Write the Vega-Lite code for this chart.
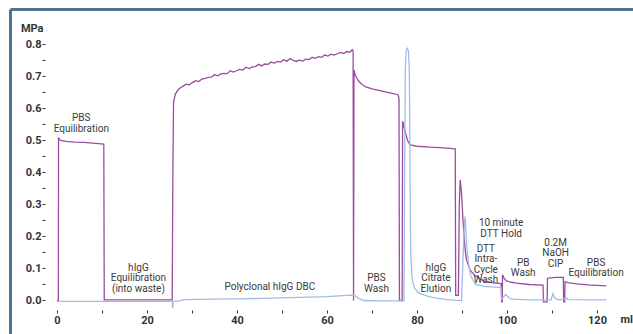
{
  "$schema": "https://vega.github.io/schema/vega-lite/v6.json",
  "width": 623,
  "height": 325,
  "autosize": {"type": "none"},
  "padding": {"left": 10, "top": 9, "right": 0, "bottom": 0},
  "background": "white",
  "config": {"view": {"stroke": null}, "font": "Roboto"},
  "datasets": {
    "curves": [
      {"ml": 0, "MPa": 0.0, "s": "P"},
      {"ml": 0.3, "MPa": 0.0, "s": "P"},
      {"ml": 0.35, "MPa": 0.507, "s": "P"},
      {"ml": 0.8, "MPa": 0.5, "s": "P"},
      {"ml": 2, "MPa": 0.497, "s": "P"},
      {"ml": 4, "MPa": 0.495, "s": "P"},
      {"ml": 6, "MPa": 0.494, "s": "P"},
      {"ml": 8, "MPa": 0.492, "s": "P"},
      {"ml": 10.4, "MPa": 0.489, "s": "P"},
      {"ml": 10.5, "MPa": 0.002, "s": "P"},
      {"ml": 15, "MPa": 0.002, "s": "P"},
      {"ml": 20, "MPa": 0.002, "s": "P"},
      {"ml": 25.6, "MPa": 0.002, "s": "P"},
      {"ml": 25.75, "MPa": 0.4, "s": "P"},
      {"ml": 25.9, "MPa": 0.62, "s": "P"},
      {"ml": 26.3, "MPa": 0.645, "s": "P"},
      {"ml": 27.0, "MPa": 0.66, "s": "P"},
      {"ml": 28.0, "MPa": 0.67, "s": "P"},
      {"ml": 28.7, "MPa": 0.676, "s": "P"},
      {"ml": 29.4, "MPa": 0.674, "s": "P"},
      {"ml": 30.1, "MPa": 0.681, "s": "P"},
      {"ml": 30.8, "MPa": 0.687, "s": "P"},
      {"ml": 31.5, "MPa": 0.684, "s": "P"},
      {"ml": 32.2, "MPa": 0.692, "s": "P"},
      {"ml": 32.9, "MPa": 0.694, "s": "P"},
      {"ml": 33.6, "MPa": 0.697, "s": "P"},
      {"ml": 34.3, "MPa": 0.698, "s": "P"},
      {"ml": 35.0, "MPa": 0.706, "s": "P"},
      {"ml": 35.7, "MPa": 0.702, "s": "P"},
      {"ml": 36.4, "MPa": 0.708, "s": "P"},
      {"ml": 37.1, "MPa": 0.71, "s": "P"},
      {"ml": 37.8, "MPa": 0.709, "s": "P"},
      {"ml": 38.5, "MPa": 0.718, "s": "P"},
      {"ml": 39.2, "MPa": 0.714, "s": "P"},
      {"ml": 39.9, "MPa": 0.718, "s": "P"},
      {"ml": 40.6, "MPa": 0.722, "s": "P"},
      {"ml": 41.3, "MPa": 0.72, "s": "P"},
      {"ml": 42.0, "MPa": 0.729, "s": "P"},
      {"ml": 42.7, "MPa": 0.725, "s": "P"},
      {"ml": 43.4, "MPa": 0.73, "s": "P"},
      {"ml": 44.1, "MPa": 0.731, "s": "P"},
      {"ml": 44.8, "MPa": 0.738, "s": "P"},
      {"ml": 45.5, "MPa": 0.733, "s": "P"},
      {"ml": 46.2, "MPa": 0.739, "s": "P"},
      {"ml": 46.9, "MPa": 0.738, "s": "P"},
      {"ml": 47.6, "MPa": 0.745, "s": "P"},
      {"ml": 48.3, "MPa": 0.742, "s": "P"},
      {"ml": 49.0, "MPa": 0.747, "s": "P"},
      {"ml": 49.7, "MPa": 0.745, "s": "P"},
      {"ml": 50.4, "MPa": 0.752, "s": "P"},
      {"ml": 51.1, "MPa": 0.748, "s": "P"},
      {"ml": 51.8, "MPa": 0.756, "s": "P"},
      {"ml": 52.5, "MPa": 0.75, "s": "P"},
      {"ml": 53.2, "MPa": 0.747, "s": "P"},
      {"ml": 53.9, "MPa": 0.751, "s": "P"},
      {"ml": 54.6, "MPa": 0.748, "s": "P"},
      {"ml": 55.3, "MPa": 0.754, "s": "P"},
      {"ml": 56.0, "MPa": 0.753, "s": "P"},
      {"ml": 56.7, "MPa": 0.76, "s": "P"},
      {"ml": 57.4, "MPa": 0.757, "s": "P"},
      {"ml": 58.1, "MPa": 0.762, "s": "P"},
      {"ml": 58.8, "MPa": 0.76, "s": "P"},
      {"ml": 59.5, "MPa": 0.767, "s": "P"},
      {"ml": 60.2, "MPa": 0.764, "s": "P"},
      {"ml": 60.9, "MPa": 0.77, "s": "P"},
      {"ml": 61.6, "MPa": 0.767, "s": "P"},
      {"ml": 62.3, "MPa": 0.771, "s": "P"},
      {"ml": 63.0, "MPa": 0.775, "s": "P"},
      {"ml": 63.7, "MPa": 0.772, "s": "P"},
      {"ml": 64.4, "MPa": 0.778, "s": "P"},
      {"ml": 65.1, "MPa": 0.776, "s": "P"},
      {"ml": 65.6, "MPa": 0.784, "s": "P"},
      {"ml": 65.8, "MPa": 0.78, "s": "P"},
      {"ml": 65.9, "MPa": 0.0, "s": "P"},
      {"ml": 66.0, "MPa": 0.72, "s": "P"},
      {"ml": 66.3, "MPa": 0.703, "s": "P"},
      {"ml": 66.8, "MPa": 0.69, "s": "P"},
      {"ml": 67.5, "MPa": 0.678, "s": "P"},
      {"ml": 68.5, "MPa": 0.668, "s": "P"},
      {"ml": 70, "MPa": 0.661, "s": "P"},
      {"ml": 72, "MPa": 0.655, "s": "P"},
      {"ml": 74, "MPa": 0.649, "s": "P"},
      {"ml": 75.8, "MPa": 0.643, "s": "P"},
      {"ml": 76.0, "MPa": 0.63, "s": "P"},
      {"ml": 76.1, "MPa": 0.0, "s": "P"},
      {"ml": 76.7, "MPa": 0.0, "s": "P"},
      {"ml": 76.8, "MPa": 0.56, "s": "P"},
      {"ml": 77.0, "MPa": 0.55, "s": "P"},
      {"ml": 77.5, "MPa": 0.52, "s": "P"},
      {"ml": 78.0, "MPa": 0.497, "s": "P"},
      {"ml": 78.5, "MPa": 0.486, "s": "P"},
      {"ml": 80, "MPa": 0.482, "s": "P"},
      {"ml": 83, "MPa": 0.479, "s": "P"},
      {"ml": 86, "MPa": 0.477, "s": "P"},
      {"ml": 88.5, "MPa": 0.474, "s": "P"},
      {"ml": 88.6, "MPa": 0.016, "s": "P"},
      {"ml": 89.2, "MPa": 0.016, "s": "P"},
      {"ml": 89.4, "MPa": 0.3, "s": "P"},
      {"ml": 89.6, "MPa": 0.377, "s": "P"},
      {"ml": 89.9, "MPa": 0.335, "s": "P"},
      {"ml": 90.3, "MPa": 0.231, "s": "P"},
      {"ml": 90.7, "MPa": 0.158, "s": "P"},
      {"ml": 91.0, "MPa": 0.127, "s": "P"},
      {"ml": 91.8, "MPa": 0.095, "s": "P"},
      {"ml": 92.9, "MPa": 0.078, "s": "P"},
      {"ml": 94.7, "MPa": 0.062, "s": "P"},
      {"ml": 96.5, "MPa": 0.056, "s": "P"},
      {"ml": 98.7, "MPa": 0.053, "s": "P"},
      {"ml": 98.8, "MPa": -0.004, "s": "P"},
      {"ml": 98.95, "MPa": -0.004, "s": "P"},
      {"ml": 99.0, "MPa": 0.08, "s": "P"},
      {"ml": 99.4, "MPa": 0.068, "s": "P"},
      {"ml": 99.9, "MPa": 0.061, "s": "P"},
      {"ml": 101, "MPa": 0.057, "s": "P"},
      {"ml": 102.1, "MPa": 0.054, "s": "P"},
      {"ml": 105, "MPa": 0.05, "s": "P"},
      {"ml": 108.0, "MPa": 0.048, "s": "P"},
      {"ml": 108.1, "MPa": -0.004, "s": "P"},
      {"ml": 108.9, "MPa": -0.004, "s": "P"},
      {"ml": 109.0, "MPa": 0.069, "s": "P"},
      {"ml": 109.5, "MPa": 0.071, "s": "P"},
      {"ml": 111, "MPa": 0.072, "s": "P"},
      {"ml": 112.5, "MPa": 0.072, "s": "P"},
      {"ml": 112.6, "MPa": -0.004, "s": "P"},
      {"ml": 112.8, "MPa": -0.004, "s": "P"},
      {"ml": 112.9, "MPa": 0.059, "s": "P"},
      {"ml": 113.5, "MPa": 0.056, "s": "P"},
      {"ml": 115.5, "MPa": 0.052, "s": "P"},
      {"ml": 118, "MPa": 0.049, "s": "P"},
      {"ml": 122.1, "MPa": 0.046, "s": "P"},
      {"ml": 0, "MPa": -0.003, "s": "U"},
      {"ml": 25.6, "MPa": -0.003, "s": "U"},
      {"ml": 25.7, "MPa": -0.024, "s": "U"},
      {"ml": 25.8, "MPa": -0.003, "s": "U"},
      {"ml": 27.3, "MPa": -0.001, "s": "U"},
      {"ml": 28.2, "MPa": 0.003, "s": "U"},
      {"ml": 35, "MPa": 0.004, "s": "U"},
      {"ml": 40, "MPa": 0.005, "s": "U"},
      {"ml": 50, "MPa": 0.008, "s": "U"},
      {"ml": 60, "MPa": 0.012, "s": "U"},
      {"ml": 65.5, "MPa": 0.017, "s": "U"},
      {"ml": 66.2, "MPa": 0.015, "s": "U"},
      {"ml": 67, "MPa": 0.007, "s": "U"},
      {"ml": 68.1, "MPa": 0.0, "s": "U"},
      {"ml": 72, "MPa": -0.001, "s": "U"},
      {"ml": 77.1, "MPa": -0.001, "s": "U"},
      {"ml": 77.25, "MPa": 0.4, "s": "U"},
      {"ml": 77.4, "MPa": 0.72, "s": "U"},
      {"ml": 77.6, "MPa": 0.78, "s": "U"},
      {"ml": 77.85, "MPa": 0.788, "s": "U"},
      {"ml": 78.1, "MPa": 0.78, "s": "U"},
      {"ml": 78.3, "MPa": 0.72, "s": "U"},
      {"ml": 78.45, "MPa": 0.4, "s": "U"},
      {"ml": 78.6, "MPa": 0.15, "s": "U"},
      {"ml": 78.9, "MPa": 0.07, "s": "U"},
      {"ml": 79.4, "MPa": 0.04, "s": "U"},
      {"ml": 80.2, "MPa": 0.026, "s": "U"},
      {"ml": 81, "MPa": 0.02, "s": "U"},
      {"ml": 82.5, "MPa": 0.013, "s": "U"},
      {"ml": 84, "MPa": 0.008, "s": "U"},
      {"ml": 86, "MPa": 0.004, "s": "U"},
      {"ml": 88, "MPa": 0.001, "s": "U"},
      {"ml": 89.9, "MPa": 0.0, "s": "U"},
      {"ml": 90.2, "MPa": 0.12, "s": "U"},
      {"ml": 90.5, "MPa": 0.23, "s": "U"},
      {"ml": 90.7, "MPa": 0.262, "s": "U"},
      {"ml": 90.9, "MPa": 0.21, "s": "U"},
      {"ml": 91.1, "MPa": 0.16, "s": "U"},
      {"ml": 91.5, "MPa": 0.11, "s": "U"},
      {"ml": 92, "MPa": 0.075, "s": "U"},
      {"ml": 93, "MPa": 0.05, "s": "U"},
      {"ml": 95, "MPa": 0.044, "s": "U"},
      {"ml": 98.7, "MPa": 0.04, "s": "U"},
      {"ml": 98.8, "MPa": 0.003, "s": "U"},
      {"ml": 99.3, "MPa": 0.012, "s": "U"},
      {"ml": 99.7, "MPa": 0.019, "s": "U"},
      {"ml": 100.3, "MPa": 0.01, "s": "U"},
      {"ml": 101, "MPa": 0.004, "s": "U"},
      {"ml": 105, "MPa": 0.002, "s": "U"},
      {"ml": 109.8, "MPa": 0.002, "s": "U"},
      {"ml": 110.2, "MPa": 0.022, "s": "U"},
      {"ml": 110.6, "MPa": 0.008, "s": "U"},
      {"ml": 111.2, "MPa": 0.003, "s": "U"},
      {"ml": 112.6, "MPa": 0.003, "s": "U"},
      {"ml": 113.0, "MPa": 0.01, "s": "U"},
      {"ml": 113.6, "MPa": 0.003, "s": "U"},
      {"ml": 122.1, "MPa": 0.002, "s": "U"}
    ],
    "notes": [
      {"x": 5.4, "y": 0.585, "label": "PBS\nEquilibration"},
      {"x": 18.1, "y": 0.118, "label": "hIgG\nEquilibration\n(into waste)"},
      {"x": 47.3, "y": 0.058, "label": "Polyclonal hIgG DBC"},
      {"x": 71.0, "y": 0.085, "label": "PBS\nWash"},
      {"x": 84.2, "y": 0.118, "label": "hIgG\nCitrate\nElution"},
      {"x": 98.7, "y": 0.257, "label": "10 minute\nDTT Hold"},
      {"x": 95.3, "y": 0.177, "label": "DTT\nIntra-\nCycle\nWash"},
      {"x": 103.6, "y": 0.133, "label": "PB\nWash"},
      {"x": 110.8, "y": 0.196, "label": "0.2M\nNaOH\nCIP"},
      {"x": 119.8, "y": 0.133, "label": "PBS\nEquilibration"}
    ]
  },
  "layer": [
    {
      "data": {"name": "curves"},
      "mark": {"type": "line", "strokeWidth": 1.3, "interpolate": "linear"},
      "encoding": {
        "x": {
          "field": "ml", "type": "quantitative",
          "scale": {"domain": [-10.444, 128], "nice": false, "zero": false},
          "axis": {
            "orient": "bottom", "offset": -24, "domain": false,
            "values": [0, 10, 20, 30, 40, 50, 60, 70, 80, 90, 100, 110, 120],
            "labelExpr": "datum.value % 20 === 0 ? datum.label : ''",
            "tickSize": 3, "tickColor": "#333333", "grid": false,
            "labelFont": "Roboto", "labelFontSize": 11, "labelFontWeight": "bold", "labelColor": "#333333", "labelPadding": 1,
            "title": "ml", "titleAngle": 0, "titleX": 610, "titleY": 9, "titleAlign": "left", "titleBaseline": "middle",
            "titleFont": "Roboto", "titleFontSize": 11, "titleFontWeight": "bold", "titleColor": "#333333"
          }
        },
        "y": {
          "field": "MPa", "type": "quantitative",
          "scale": {"domain": [-0.1047, 0.9109], "nice": false, "zero": false},
          "axis": {
            "orient": "left", "offset": -35, "domain": false,
            "values": [0, 0.05, 0.1, 0.15, 0.2, 0.25, 0.3, 0.35, 0.4, 0.45, 0.5, 0.55, 0.6, 0.65, 0.7, 0.75, 0.8],
            "labelExpr": "round(datum.value * 100) % 10 === 0 ? format(datum.value, '.1f') : ''",
            "tickSize": 3, "tickColor": "#333333", "grid": false,
            "labelFont": "Roboto", "labelFontSize": 11, "labelFontWeight": "bold", "labelColor": "#333333", "labelPadding": 1,
            "title": "MPa", "titleAngle": 0, "titleX": -2, "titleY": 19, "titleAlign": "right", "titleBaseline": "middle",
            "titleFont": "Roboto", "titleFontSize": 11, "titleFontWeight": "bold", "titleColor": "#333333"
          }
        },
        "color": {
          "field": "s", "type": "nominal",
          "scale": {"domain": ["P", "U"], "range": ["#9a4c9f", "#a2bbe6"]},
          "legend": null
        }
      }
    },
    {
      "mark": {"type": "rule", "color": "#444444", "strokeWidth": 1},
      "encoding": {
        "x": {
          "datum": -2.7, "type": "quantitative",
          "scale": {"domain": [-10.444, 128], "nice": false, "zero": false},
          "axis": {"orient": "top", "offset": 0, "domainColor": "#4e7591", "domainWidth": 3, "ticks": false, "labels": false, "grid": false, "title": null}
        },
        "x2": {"datum": 124.7},
        "y": {
          "datum": -0.03, "type": "quantitative",
          "scale": {"domain": [-0.1047, 0.9109], "nice": false, "zero": false},
          "axis": {"orient": "left", "offset": 0, "domainColor": "#4e7591", "domainWidth": 3, "ticks": false, "labels": false, "grid": false, "title": null}
        }
      }
    },
    {
      "mark": {"type": "rule", "color": "#444444", "strokeWidth": 1},
      "encoding": {
        "x": {"datum": -2.7, "type": "quantitative", "axis": null},
        "y": {"datum": -0.03, "type": "quantitative", "axis": null},
        "y2": {"datum": 0.814}
      }
    },
    {
      "data": {"name": "notes"},
      "mark": {"type": "text", "align": "center", "baseline": "top", "fontSize": 10, "lineHeight": 10.5, "lineBreak": "\n", "color": "#3a3a3a", "font": "Roboto"},
      "encoding": {
        "x": {"field": "x", "type": "quantitative", "axis": null},
        "y": {"field": "y", "type": "quantitative", "axis": null},
        "text": {"field": "label", "type": "nominal"}
      }
    }
  ],
  "resolve": {"axis": {"x": "independent", "y": "independent"}}
}
